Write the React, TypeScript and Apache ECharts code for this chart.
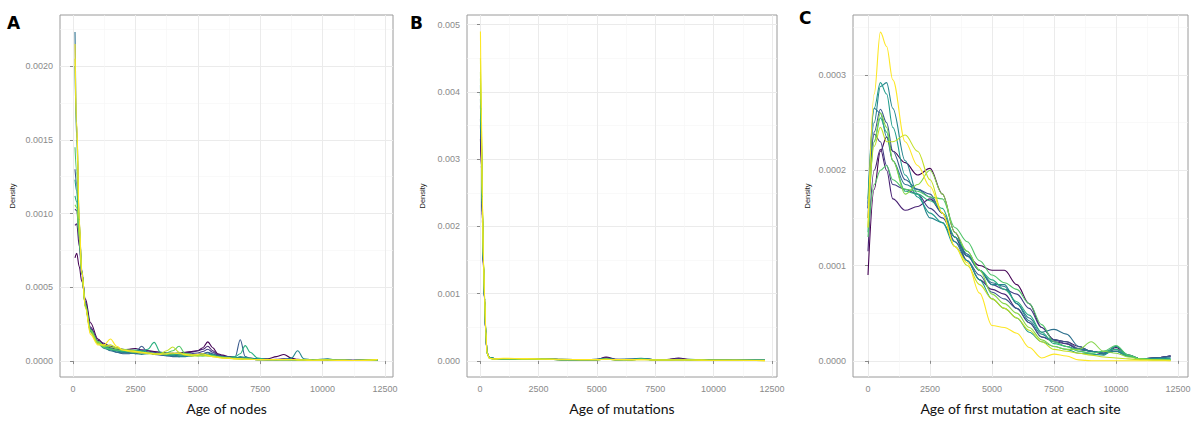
import React, { useEffect, useRef } from "react";
import * as echarts from "echarts";

// viridis, one colour per replicate
const colors = ["#440154", "#482173", "#433E85", "#38598C", "#2D708E", "#25858E", "#1E9B8A", "#2BB07F", "#51C56A", "#85D54A", "#C2DF23", "#FDE725"];

// A: age of nodes, density x1e-4
const nodesAge = [80, 150, 250, 350, 500, 700, 1000, 1250, 1500, 1750, 2000, 2250, 2500, 2750, 3000, 3250, 3500, 3750, 4000, 4250, 4500, 4750, 5000, 5200, 5400, 5600, 5800, 6000, 6250, 6500, 6700, 6900, 7100, 7400, 7800, 8150, 8450, 8750, 9000, 9250, 9600, 10200, 10600, 11200, 12200];
const nodesDensity = [
  [7.0, 7.3, 6.4, 5.4, 4.2, 2.6, 1.5, 1.1, 0.9, 0.8, 0.75, 0.8, 0.85, 0.75, 0.7, 0.65, 0.6, 0.55, 0.5, 0.55, 0.6, 0.65, 0.7, 0.9, 1.3, 0.9, 0.5, 0.4, 0.3, 0.25, 0.2, 0.2, 0.18, 0.15, 0.15, 0.3, 0.45, 0.2, 0.12, 0.1, 0.08, 0.08, 0.06, 0.05, 0.08],
  [9.2, 9.3, 7.8, 6.0, 4.0, 2.3, 1.4, 1.2, 1.0, 0.9, 0.8, 0.7, 0.65, 0.75, 0.7, 0.6, 0.5, 0.45, 0.45, 0.5, 0.55, 0.6, 0.7, 0.8, 1.0, 0.7, 0.45, 0.35, 0.3, 0.25, 0.2, 0.18, 0.15, 0.12, 0.1, 0.12, 0.15, 0.12, 0.1, 0.08, 0.07, 0.08, 0.06, 0.05, 0.08],
  [10.3, 10.2, 8.3, 6.0, 3.8, 2.2, 1.3, 1.0, 0.85, 0.7, 0.6, 0.55, 0.5, 0.55, 0.6, 0.5, 0.45, 0.4, 0.35, 0.4, 0.45, 0.5, 0.55, 0.65, 0.8, 0.6, 0.4, 0.3, 0.25, 0.2, 0.18, 0.15, 0.12, 0.1, 0.1, 0.1, 0.12, 0.1, 0.08, 0.07, 0.06, 0.08, 0.05, 0.04, 0.08],
  [13.0, 12.0, 9.0, 6.2, 3.8, 2.1, 1.3, 1.0, 0.8, 0.6, 0.5, 0.5, 0.6, 1.0, 0.6, 0.45, 0.4, 0.35, 0.3, 0.3, 0.35, 0.4, 0.45, 0.5, 0.6, 0.5, 0.35, 0.3, 0.25, 0.3, 1.45, 0.3, 0.2, 0.15, 0.12, 0.1, 0.1, 0.1, 0.08, 0.07, 0.06, 0.08, 0.05, 0.04, 0.08],
  [22.3, 16.0, 9.5, 6.0, 3.7, 2.0, 1.2, 0.9, 0.7, 0.6, 0.55, 0.6, 0.7, 0.65, 0.55, 0.5, 0.45, 0.5, 0.55, 0.45, 0.4, 0.4, 0.45, 0.5, 0.55, 0.45, 0.35, 0.3, 0.25, 0.2, 0.18, 0.15, 0.12, 0.1, 0.1, 0.1, 0.1, 0.1, 0.08, 0.07, 0.06, 0.12, 0.05, 0.04, 0.08],
  [20.0, 15.0, 9.2, 6.0, 3.7, 2.0, 1.2, 0.85, 0.75, 0.7, 0.6, 0.55, 0.5, 0.45, 0.5, 0.55, 0.5, 0.4, 0.35, 0.3, 0.3, 0.35, 0.4, 0.4, 0.45, 0.4, 0.3, 0.25, 0.2, 0.18, 0.2, 0.18, 0.15, 0.12, 0.1, 0.1, 0.12, 0.2, 0.7, 0.15, 0.08, 0.15, 0.06, 0.04, 0.08],
  [12.3, 11.5, 8.7, 6.0, 3.7, 2.1, 1.3, 0.95, 0.8, 0.7, 0.65, 0.7, 0.75, 0.7, 0.6, 0.5, 0.45, 0.4, 0.4, 0.45, 0.5, 0.45, 0.4, 0.4, 0.45, 0.4, 0.3, 0.25, 0.2, 0.2, 0.3, 0.25, 0.18, 0.12, 0.1, 0.1, 0.1, 0.1, 0.1, 0.08, 0.07, 0.1, 0.05, 0.04, 0.08],
  [11.2, 10.8, 8.5, 6.0, 3.8, 2.1, 1.3, 1.0, 0.85, 0.75, 0.7, 0.65, 0.6, 0.65, 0.8, 1.27, 0.6, 0.5, 0.45, 0.4, 0.4, 0.35, 0.4, 0.4, 0.45, 0.4, 0.3, 0.25, 0.25, 0.3, 0.5, 1.05, 0.6, 0.2, 0.12, 0.1, 0.1, 0.1, 0.08, 0.07, 0.06, 0.08, 0.05, 0.04, 0.08],
  [14.5, 12.8, 9.0, 6.0, 3.7, 2.0, 1.2, 0.9, 0.8, 0.75, 0.7, 0.7, 0.65, 0.6, 0.55, 0.5, 0.5, 0.55, 0.7, 1.0, 0.5, 0.4, 0.35, 0.35, 0.4, 0.35, 0.3, 0.25, 0.2, 0.18, 0.15, 0.15, 0.12, 0.1, 0.1, 0.1, 0.1, 0.1, 0.08, 0.07, 0.06, 0.08, 0.05, 0.04, 0.1],
  [10.6, 10.4, 8.4, 6.0, 3.8, 2.1, 1.3, 1.05, 0.95, 0.85, 0.8, 0.75, 0.7, 0.6, 0.55, 0.5, 0.5, 0.45, 0.5, 0.55, 0.5, 0.45, 0.4, 0.35, 0.35, 0.35, 0.3, 0.25, 0.2, 0.18, 0.15, 0.15, 0.12, 0.1, 0.1, 0.1, 0.1, 0.1, 0.08, 0.07, 0.06, 0.08, 0.05, 0.04, 0.1],
  [20.5, 15.5, 9.4, 6.0, 3.6, 1.9, 1.2, 1.0, 1.1, 0.9, 0.75, 0.65, 0.6, 0.55, 0.5, 0.45, 0.5, 0.7, 0.95, 0.6, 0.4, 0.35, 0.35, 0.4, 0.35, 0.3, 0.25, 0.2, 0.18, 0.15, 0.15, 0.12, 0.12, 0.1, 0.1, 0.1, 0.1, 0.1, 0.08, 0.07, 0.06, 0.07, 0.05, 0.04, 0.1],
  [21.5, 16.2, 9.6, 6.1, 3.6, 1.8, 1.1, 1.1, 1.5, 1.0, 0.75, 0.7, 0.65, 0.6, 0.55, 0.5, 0.45, 0.5, 0.55, 0.5, 0.45, 0.4, 0.45, 0.5, 0.4, 0.3, 0.25, 0.2, 0.2, 0.15, 0.15, 0.12, 0.12, 0.1, 0.1, 0.1, 0.1, 0.1, 0.08, 0.07, 0.06, 0.07, 0.05, 0.04, 0.1],
];

// B: age of mutations, density x1e-3
const mutAge = [20, 60, 100, 150, 200, 250, 300, 400, 600, 1000, 2000, 2800, 3500, 4500, 5000, 5400, 5800, 6500, 6900, 7500, 8000, 8500, 9000, 10000, 11000, 12200];
const mutDensity = [
  [3.3, 2.9, 2.1, 1.35, 0.88, 0.4, 0.12, 0.05, 0.035, 0.03, 0.025, 0.035, 0.02, 0.015, 0.02, 0.06, 0.025, 0.02, 0.03, 0.02, 0.02, 0.045, 0.02, 0.015, 0.01, 0.01],
  [3.5, 3.0, 2.15, 1.38, 0.88, 0.4, 0.12, 0.05, 0.035, 0.03, 0.03, 0.03, 0.02, 0.02, 0.025, 0.05, 0.02, 0.02, 0.025, 0.02, 0.02, 0.035, 0.015, 0.015, 0.01, 0.01],
  [3.8, 3.2, 2.2, 1.4, 0.9, 0.4, 0.12, 0.05, 0.035, 0.03, 0.025, 0.03, 0.025, 0.02, 0.02, 0.04, 0.02, 0.025, 0.03, 0.02, 0.015, 0.03, 0.015, 0.01, 0.01, 0.01],
  [3.6, 3.1, 2.2, 1.4, 0.9, 0.4, 0.12, 0.05, 0.035, 0.035, 0.03, 0.03, 0.02, 0.02, 0.02, 0.035, 0.02, 0.025, 0.035, 0.02, 0.015, 0.025, 0.02, 0.01, 0.01, 0.01],
  [4.0, 3.3, 2.25, 1.42, 0.9, 0.41, 0.12, 0.05, 0.035, 0.03, 0.03, 0.025, 0.02, 0.015, 0.02, 0.03, 0.025, 0.03, 0.04, 0.02, 0.015, 0.02, 0.02, 0.015, 0.01, 0.01],
  [3.9, 3.25, 2.25, 1.42, 0.9, 0.41, 0.12, 0.05, 0.035, 0.035, 0.025, 0.03, 0.02, 0.02, 0.02, 0.03, 0.02, 0.025, 0.035, 0.02, 0.015, 0.02, 0.025, 0.01, 0.01, 0.01],
  [4.1, 3.35, 2.3, 1.44, 0.9, 0.42, 0.12, 0.05, 0.035, 0.03, 0.03, 0.03, 0.025, 0.02, 0.02, 0.03, 0.02, 0.02, 0.03, 0.015, 0.015, 0.02, 0.02, 0.015, 0.01, 0.01],
  [4.0, 3.3, 2.28, 1.43, 0.9, 0.42, 0.12, 0.05, 0.035, 0.035, 0.03, 0.025, 0.02, 0.02, 0.025, 0.03, 0.02, 0.02, 0.03, 0.015, 0.015, 0.02, 0.02, 0.01, 0.01, 0.01],
  [4.2, 3.4, 2.3, 1.45, 0.9, 0.42, 0.12, 0.04, 0.03, 0.03, 0.03, 0.03, 0.02, 0.02, 0.02, 0.025, 0.02, 0.02, 0.025, 0.02, 0.015, 0.02, 0.015, 0.01, 0.01, 0.01],
  [4.3, 3.5, 2.35, 1.47, 0.92, 0.43, 0.12, 0.04, 0.03, 0.035, 0.025, 0.025, 0.02, 0.02, 0.02, 0.025, 0.02, 0.02, 0.025, 0.015, 0.015, 0.02, 0.015, 0.01, 0.01, 0.01],
  [4.5, 3.6, 2.4, 1.48, 0.93, 0.44, 0.12, 0.04, 0.03, 0.035, 0.03, 0.025, 0.02, 0.02, 0.02, 0.025, 0.02, 0.015, 0.02, 0.015, 0.015, 0.015, 0.015, 0.01, 0.01, 0.005],
  [4.9, 3.75, 2.45, 1.5, 0.95, 0.45, 0.12, 0.04, 0.03, 0.04, 0.035, 0.03, 0.025, 0.02, 0.02, 0.025, 0.02, 0.02, 0.02, 0.015, 0.015, 0.015, 0.015, 0.01, 0.01, 0.005],
];

// C: age of first mutation at each site, density x1e-4
const siteAge = [0, 250, 500, 750, 1000, 1500, 2000, 2500, 3000, 3500, 4000, 4500, 5000, 5500, 6000, 6500, 7000, 7500, 8000, 8500, 9000, 9500, 10000, 10500, 11000, 11500, 12200];
const siteDensity = [
  [0.9, 1.8, 2.2, 2.35, 2.2, 2.08, 1.95, 2.02, 1.75, 1.35, 1.1, 1.0, 0.95, 0.95, 0.8, 0.6, 0.35, 0.22, 0.2, 0.15, 0.1, 0.07, 0.14, 0.06, 0.02, 0.03, 0.05],
  [1.15, 2.0, 2.22, 2.0, 1.7, 1.58, 1.62, 1.7, 1.55, 1.3, 1.05, 0.85, 0.75, 0.7, 0.55, 0.4, 0.25, 0.2, 0.18, 0.12, 0.1, 0.08, 0.1, 0.05, 0.02, 0.03, 0.05],
  [1.6, 2.38, 2.3, 2.05, 1.85, 1.8, 1.75, 1.6, 1.5, 1.3, 1.1, 0.95, 0.8, 0.75, 0.7, 0.55, 0.35, 0.22, 0.18, 0.12, 0.1, 0.08, 0.12, 0.05, 0.02, 0.03, 0.05],
  [1.5, 2.4, 2.64, 2.5, 2.2, 1.9, 1.8, 1.75, 1.55, 1.25, 1.05, 0.9, 0.72, 0.65, 0.55, 0.4, 0.25, 0.22, 0.2, 0.13, 0.1, 0.08, 0.15, 0.06, 0.02, 0.03, 0.05],
  [1.6, 2.65, 2.6, 2.35, 2.1, 1.85, 1.8, 1.72, 1.55, 1.3, 1.12, 0.95, 0.82, 0.78, 0.6, 0.45, 0.3, 0.33, 0.28, 0.15, 0.1, 0.08, 0.1, 0.05, 0.02, 0.03, 0.04],
  [1.65, 2.5, 2.88, 2.92, 2.65, 2.1, 1.75, 1.5, 1.45, 1.25, 1.1, 0.95, 0.8, 0.8, 0.6, 0.42, 0.28, 0.2, 0.15, 0.12, 0.1, 0.08, 0.1, 0.05, 0.02, 0.02, 0.03],
  [1.7, 2.65, 2.92, 2.8, 2.45, 1.95, 1.72, 1.55, 1.45, 1.2, 1.05, 0.85, 0.65, 0.55, 0.45, 0.3, 0.2, 0.15, 0.12, 0.08, 0.07, 0.06, 0.15, 0.06, 0.02, 0.02, 0.02],
  [1.35, 2.3, 2.55, 2.4, 2.1, 1.78, 1.75, 1.68, 1.6, 1.3, 1.15, 0.95, 0.85, 0.75, 0.62, 0.48, 0.3, 0.18, 0.15, 0.1, 0.08, 0.1, 0.12, 0.05, 0.02, 0.01, 0.01],
  [1.3, 1.85, 2.0, 2.05, 1.9, 1.8, 1.78, 1.72, 1.7, 1.4, 1.25, 1.05, 0.9, 0.82, 0.75, 0.6, 0.38, 0.2, 0.15, 0.1, 0.08, 0.1, 0.16, 0.06, 0.02, 0.01, 0.01],
  [1.4, 2.3, 2.6, 2.45, 2.1, 1.75, 1.85, 2.0, 1.75, 1.35, 1.15, 0.95, 0.7, 0.6, 0.5, 0.35, 0.22, 0.15, 0.12, 0.12, 0.2, 0.1, 0.08, 0.04, 0.02, 0.01, 0.01],
  [1.5, 2.25, 2.45, 2.3, 2.3, 2.37, 2.2, 1.9, 1.55, 1.2, 1.0, 0.8, 0.65, 0.55, 0.45, 0.32, 0.2, 0.12, 0.1, 0.08, 0.06, 0.04, 0.03, 0.02, 0.01, 0.01, 0.0],
  [1.4, 2.8, 3.45, 3.3, 2.95, 2.3, 2.05, 1.83, 1.55, 1.2, 1.03, 0.71, 0.37, 0.35, 0.29, 0.14, 0.03, 0.07, 0.05, 0.01, 0.0, 0.0, 0.0, 0.0, 0.0, 0.0, 0.0],
];

const xMajor = [0, 2500, 5000, 7500, 10000, 12500];
const xMinor = [1250, 3750, 6250, 8750, 11250];

const panels = [
  { letter: "A", title: "Age of nodes", x: nodesAge, rows: nodesDensity, left: 60, width: 333, xMin: -521, xMax: 12820,
    yMin: -1.08, yMax: 23.46, yMajor: [0, 5, 10, 15, 20], yMinor: [2.5, 7.5, 12.5, 17.5, 22.5], scale: 1e-4, digits: 4, letterX: 14, letterY: 24, nameGap: 44 },
  { letter: "B", title: "Age of mutations", x: mutAge, rows: mutDensity, left: 467, width: 310, xMin: -556, xMax: 12714,
    yMin: -0.238, yMax: 5.144, yMajor: [0, 1, 2, 3, 4, 5], yMinor: [0.5, 1.5, 2.5, 3.5, 4.5], scale: 1e-3, digits: 3, letterX: 417, letterY: 24, nameGap: 41 },
  { letter: "C", title: "Age of first mutation at each site", x: siteAge, rows: siteDensity, left: 853, width: 335, xMin: -605, xMax: 12903,
    yMin: -0.17, yMax: 3.63, yMajor: [0, 1, 2, 3], yMinor: [0.5, 1.5, 2.5, 3.5], scale: 1e-4, digits: 4, letterX: 806, letterY: 19, nameGap: 42 },
];

const FONT = "Liberation Sans";
const GREY = "#8a8a8a";

const App = () => {
  const chartRef = useRef(null);

  useEffect(() => {
    const chart = echarts.init(chartRef.current, null, { renderer: "svg" });

    const grid: any[] = [];
    const xAxis: any[] = [];
    const yAxis: any[] = [];
    const series: any[] = [];
    const title: any[] = [];

    panels.forEach((p, i) => {
      grid.push({ left: p.left, top: 15, width: p.width, height: 362, show: true, borderColor: "#9a9a9a", borderWidth: 1, backgroundColor: "#fff" });
      // major axis
      xAxis.push({
        type: "value", gridIndex: i, min: p.xMin, max: p.xMax,
        name: p.title, nameLocation: "middle", nameGap: 24,
        nameTextStyle: { fontFamily: "Lato", fontSize: 14, color: "#111" },
        axisLine: { show: false },
        axisTick: { show: true, length: 3, lineStyle: { color: GREY }, customValues: xMajor },
        axisLabel: { customValues: xMajor, margin: 7, color: GREY, fontFamily: FONT, fontSize: 9, formatter: (v: number) => String(v) },
        splitLine: { show: true, lineStyle: { color: "#ebebeb", width: 1 } },
      });
      // minor grid lines
      xAxis.push({
        type: "value", gridIndex: i, min: p.xMin, max: p.xMax,
        axisLine: { show: false }, axisLabel: { show: false },
        axisTick: { show: false, customValues: xMinor },
        splitLine: { show: true, lineStyle: { color: "#f5f5f5", width: 0.6 } },
      });
      yAxis.push({
        type: "value", gridIndex: i, min: p.yMin, max: p.yMax,
        name: "Density", nameLocation: "middle", nameRotate: 90, nameGap: p.nameGap,
        nameTextStyle: { fontFamily: FONT, fontSize: 7.5, color: "#222" },
        axisLine: { show: false },
        axisTick: { show: true, length: 3, lineStyle: { color: GREY }, customValues: p.yMajor },
        axisLabel: { customValues: p.yMajor, margin: 7, color: GREY, fontFamily: FONT, fontSize: 9,
          formatter: (v: number) => (v * p.scale).toFixed(p.digits) },
        splitLine: { show: true, lineStyle: { color: "#ebebeb", width: 1 } },
      });
      yAxis.push({
        type: "value", gridIndex: i, min: p.yMin, max: p.yMax,
        axisLine: { show: false }, axisLabel: { show: false },
        axisTick: { show: false, customValues: p.yMinor },
        splitLine: { show: true, lineStyle: { color: "#f5f5f5", width: 0.6 } },
      });

      p.rows.forEach((row, k) => {
        series.push({
          type: "line", name: `Replicate ${k + 1}`,
          xAxisIndex: i * 2, yAxisIndex: i * 2,
          data: p.x.map((x, j) => [x, row[j]]),
          smooth: 0.35, smoothMonotone: "x", showSymbol: false, symbol: "none",
          lineStyle: { color: colors[k], width: 1.1 },
          itemStyle: { color: colors[k] },
          z: 2 + k,
        });
      });

      title.push({
        text: p.letter, left: p.letterX - 7, top: p.letterY - 10,
        textStyle: { fontFamily: "DejaVu Sans", fontWeight: 900, fontSize: 17, color: "#000" },
        padding: 0,
      });
    });

    chart.setOption({
      animation: false,
      backgroundColor: "#fff",
      title,
      grid,
      xAxis,
      yAxis,
      series,
    });

    return () => {
      chart.dispose();
    };
  }, []);

  return (
    <div ref={chartRef} style={{ position: "absolute", left: 0, top: 0, width: "1200px", height: "422px" }}></div>
  );
};

export default App;
